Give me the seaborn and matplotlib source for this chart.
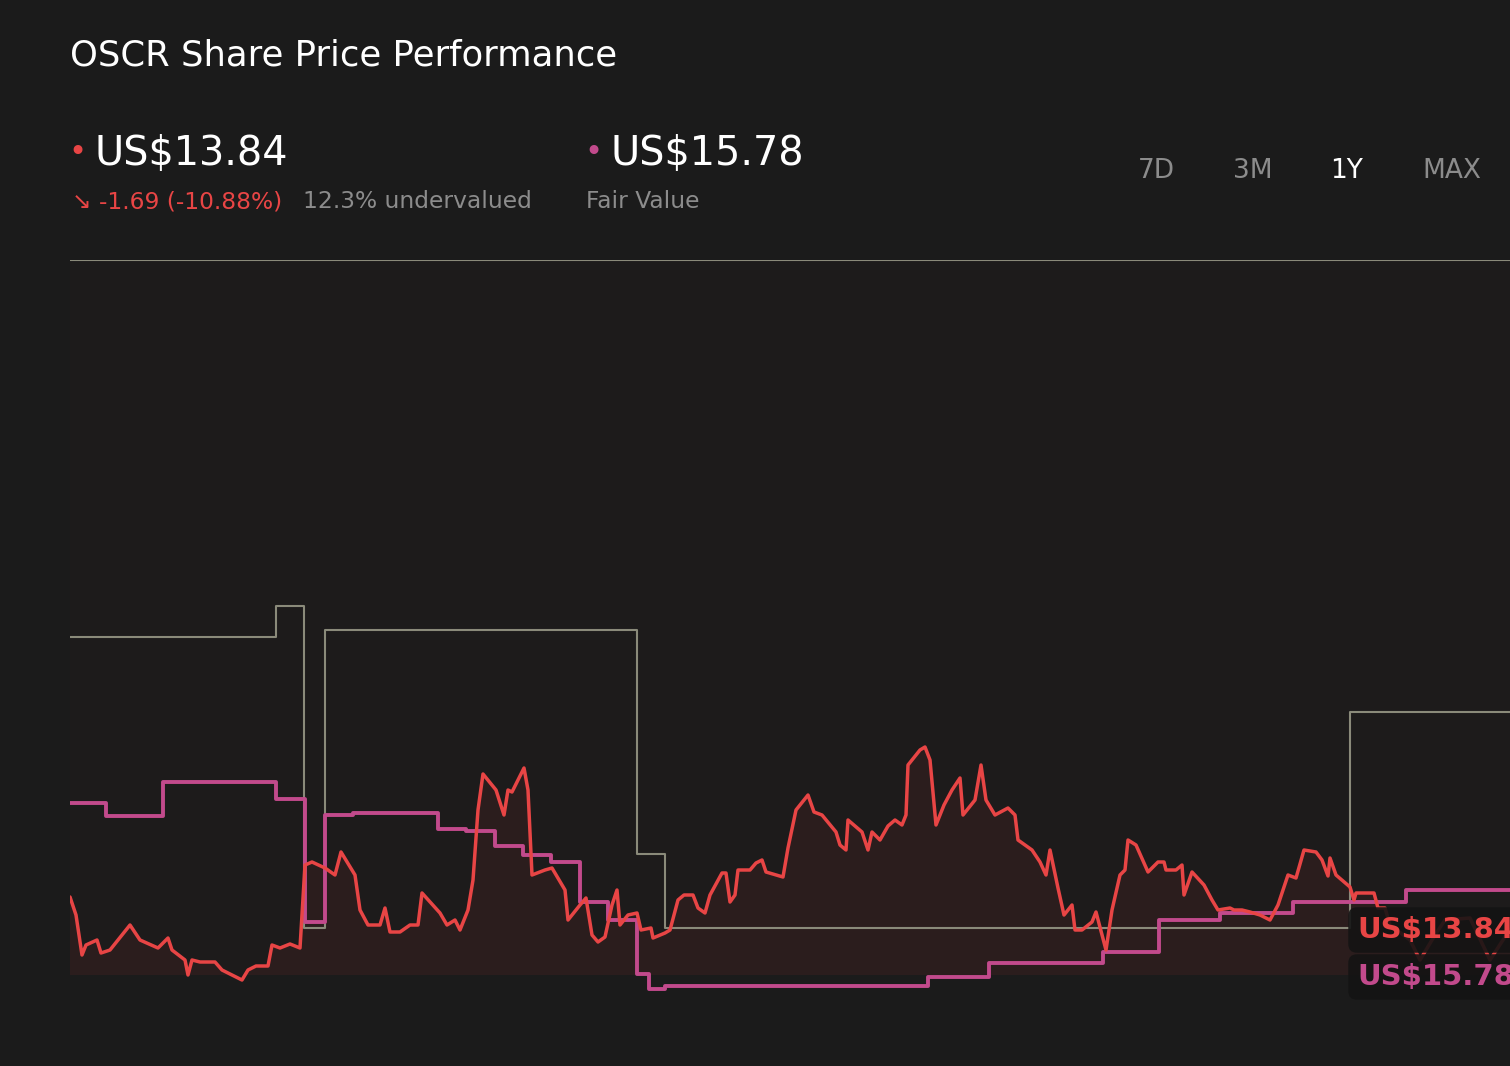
import matplotlib
matplotlib.use("Agg")
import matplotlib.pyplot as plt
import seaborn as sns
import pandas as pd

sns.set_theme(style="dark")
plt.rcParams['font.family'] = ['DejaVu Sans']

BG = "#1b1b1b"
RED = "#e84545"
PINK = "#c24a8c"
GREY = "#8a8a7a"

price_day = [0,1.5,3,4,6.75,7.75,10,15,17.5,22,24.5,25.5,28.75,29.5,30.5,32.5,36.25,38,43,44.5,46.5,49.5,50.5,52.5,55,57.5,58.75,60.5,63.75,66.25,67.75,71.25,72.5,74.5,77.5,78.75,80,82.5,85,87,88,92.5,94.25,96.25,97.5,99.5,100.75,102,103.25,106.5,108.5,109.5,110.5,113.5,114.5,115.5,118.75,120.5,123.75,124.5,127.5,129,130.5,132,133.75,135.5,136.75,137.5,139.5,141.75,142.75,145.25,145.75,148.75,150,152,153.5,155.75,157,158.75,160,163,164,165,166.25,167,170,171.5,173,174,178.25,179.5,181.5,184.5,186,188,191.5,192.5,194,194.5,198,199.5,200.5,202.5,204.5,206.25,208,209,209.5,212.5,213.75,215,216.5,218.5,220.5,222.5,223.25,226.25,227.75,229,231.25,234.5,236.25,237,240.5,242.5,244,245,247,248.5,250.5,251.25,253,255.5,256.5,258,259,260.5,262.5,263.75,264.5,266.5,269.5,272,273.5,274,276.5,278,278.5,280.5,283.5,285.5,287,290,291,293,295,297.5,300,302,304.5,306.5,308.5,311.5,313,314.5,315,316.5,320,321,321.5,326,327,328.75,330,335,337.5,341.25,343.75,350,355,360]
price_val = [15.45,14.55,12.55,13.05,13.3,12.65,12.8,14.05,13.3,12.9,13.4,12.8,12.3,11.55,12.3,12.2,12.2,11.8,11.3,11.8,12.0,12.0,13.05,12.9,13.1,12.9,17.05,17.2,16.9,16.55,17.7,16.55,14.8,14.05,14.05,14.9,13.7,13.7,14.05,14.05,15.65,14.65,14.05,14.3,13.8,14.8,16.3,19.8,21.6,20.8,19.55,20.8,20.7,21.9,20.8,16.55,16.8,16.9,15.8,14.3,15.05,15.4,13.55,13.2,13.45,15.05,15.8,14.05,14.55,14.65,13.8,13.9,13.4,13.65,13.8,15.3,15.55,15.55,14.9,14.65,15.55,16.65,16.65,15.2,15.55,16.8,16.8,17.15,17.3,16.7,16.45,17.9,19.8,20.55,19.7,19.55,18.7,18.05,17.8,19.3,18.7,17.8,18.7,18.3,19.0,19.3,19.05,19.55,22.05,22.8,22.95,22.3,19.05,20.05,20.8,21.4,19.55,20.3,22.05,20.3,19.55,19.9,19.55,18.3,17.8,17.2,16.55,17.8,15.9,14.55,15.05,13.8,13.8,14.2,14.7,13.55,12.8,14.8,16.55,16.8,18.3,18.05,16.7,17.2,17.2,16.8,16.8,17.05,15.55,16.7,16.05,15.3,14.8,14.9,14.8,14.8,14.7,14.55,14.3,15.05,16.55,16.4,17.8,17.7,17.3,16.5,17.4,16.55,15.95,15.3,15.65,15.65,14.9,14.9,14.05,13.3,12.3,13.55,14.3,14.4,12.3,13.84]

fair_day = [0,9,23.25,51.5,58.75,63.75,70.75,92,99,106.25,113.25,120.25,127.5,134.5,141.75,144.75,148.75,214.5,229.75,258.25,272.25,287.5,305.75,334,360]
fair_val = [20.15,19.5,21.2,20.35,14.2,19.55,19.65,18.85,18.75,18.0,17.55,17.2,15.2,14.3,11.6,10.85,11.0,11.45,12.15,12.7,14.3,14.65,15.2,15.8,15.8]

grey_day = [0,51.5,58.5,63.75,141.75,148.75,320,360]
grey_val = [28.45,30.0,13.9,28.8,17.6,13.9,24.7,24.7]
grey_top = 47.3

price_df = pd.DataFrame({"day": price_day, "price": price_val})

fig = plt.figure(figsize=(15.1, 10.66), dpi=100, facecolor=BG)
ax = fig.add_axes([70/1510, 0, 1 - 70/1510, (1066-260)/1066])
ax.set_facecolor(BG)

ax.fill_between(price_day, price_val, 11.55, where=[v >= 11.55 for v in price_val],
                color=RED, alpha=0.07, lw=0, interpolate=True)
ax.fill_between([0, 360], 11.55, grey_top, color="#221d1d", alpha=0.3, lw=0, zorder=0)
ax.step(grey_day, grey_val, where="post", color=GREY, lw=1.5)
ax.axhline(grey_top, color=GREY, lw=1.5)
ax.step(fair_day, fair_val, where="post", color=PINK, lw=2.8)
sns.lineplot(data=price_df, x="day", y="price", color=RED, lw=2.5, ax=ax)

ax.set_xlim(0, 360)
ax.set_ylim(7.0, 47.3)
ax.set_xticks([]); ax.set_yticks([])
ax.set_xlabel(""); ax.set_ylabel("")
for s in ax.spines.values():
    s.set_visible(False)

# end labels
for yv, txt, col in [(13.8, "US$13.84", RED), (11.45, "US$15.78", PINK)]:
    ax.text(321.75, yv, txt, color=col, fontsize=21, fontweight="bold", va="center", ha="left",
            bbox=dict(boxstyle="round,pad=0.3", fc="#141414", ec="none", alpha=0.9),
            zorder=10, clip_on=False)

# header
fig.text(70/1510, 1 - 56/1066, "OSCR Share Price Performance", color="white", fontsize=25.5, va="center")
fig.text(68/1510, 1 - 152/1066, "•", color=RED, fontsize=22, va="center")
fig.text(94/1510, 1 - 154/1066, "US$13.84", color="white", fontsize=28.6, va="center")
fig.text(72/1510, 1 - 202/1066, "↘ -1.69 (-10.88%)", color=RED, fontsize=16.8, va="center")
fig.text(303/1510, 1 - 202/1066, "12.3% undervalued", color="#8c8c8c", fontsize=16.8, va="center")
fig.text(584/1510, 1 - 152/1066, "•", color=PINK, fontsize=22, va="center")
fig.text(610/1510, 1 - 154/1066, "US$15.78", color="white", fontsize=28.6, va="center")
fig.text(586/1510, 1 - 202/1066, "Fair Value", color="#8c8c8c", fontsize=16.8, va="center")
for xp, t, c in [(1156, "7D", "#8c8c8c"), (1253, "3M", "#8c8c8c"), (1347, "1Y", "white"), (1452, "MAX", "#8c8c8c")]:
    fig.text(xp/1510, 1 - 171/1066, t, color=c, fontsize=19, va="center", ha="center")

fig.savefig("out.png", dpi=100, facecolor=BG)
